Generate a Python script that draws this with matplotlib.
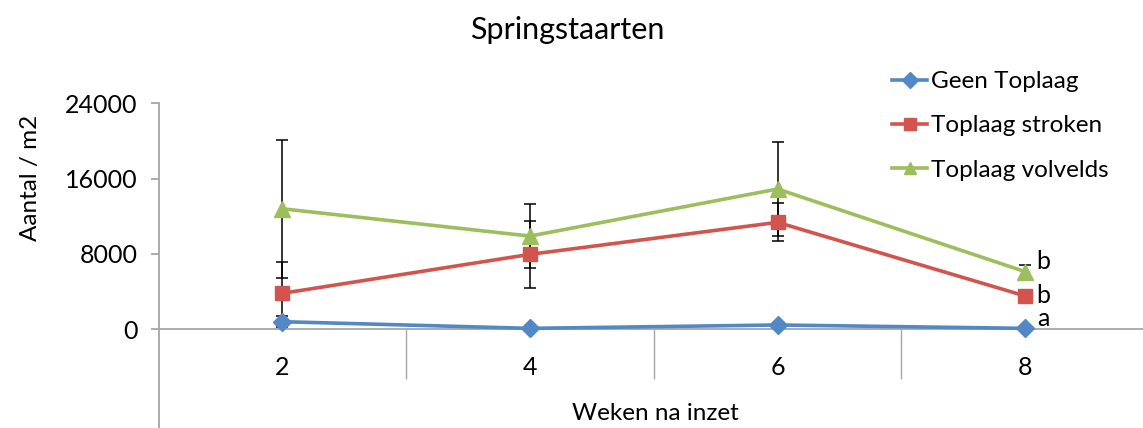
import matplotlib
matplotlib.use("Agg")
import matplotlib.pyplot as plt
from matplotlib.ticker import FixedLocator

weeks = [2, 4, 6, 8]
series_names = ["Geen Toplaag", "Toplaag stroken", "Toplaag volvelds"]
geen = [810, 100, 460, 100]
geen_err = [600, 150, 250, 150]
stroken = [3820, 7960, 11360, 3540]
stroken_err = [3360, 3540, 2020, 300]
volvelds = [12800, 9900, 14900, 6120]
volvelds_err = [7300, 3370, 5000, 700]
letters = ["a", "b", "b"]
yticks = [0, 8000, 16000, 24000]

plt.rcParams['font.family'] = ['Lato', 'DejaVu Sans']

W, H = 1143, 428
fig = plt.figure(figsize=(W / 100, H / 100), dpi=100)
left = 158.5 / W
width = 990.5 / W
bottom = 0.0
top = 1 - 103.3 / H
ax = fig.add_axes([left, bottom, width, top - bottom])
ax.set_xlim(1, 9)
ax.set_ylim(-10480, 24000)

colors = ['#5288C6', '#D3534F', '#9CBE5C']
markers = ['D', 's', '^']
msizes = [9, 10, 11]
data = [geen, stroken, volvelds]
errs = [geen_err, stroken_err, volvelds_err]

# error bars
for vals, e in zip(data, errs):
    ax.errorbar(weeks, vals, yerr=e, fmt='none', ecolor='black',
                elinewidth=1.1, capsize=4, capthick=1.1, zorder=2)

handles = []
for vals, c, m, ms, name in zip(data, colors, markers, msizes, series_names):
    h, = ax.plot(weeks, vals, color=c, marker=m, markersize=ms, lw=2.6,
                 markeredgecolor=c, label=name, zorder=3)
    handles.append(h)

# spines
gray = '#A6A6A6'
for s in ['top', 'right']:
    ax.spines[s].set_visible(False)
ax.spines['bottom'].set_position(('data', 0))
ax.spines['bottom'].set_color(gray)
ax.spines['left'].set_color(gray)
ax.spines['bottom'].set_linewidth(1.3)
ax.spines['left'].set_linewidth(1.3)

ax.yaxis.set_major_locator(FixedLocator(yticks))
ax.set_yticklabels([str(v) for v in yticks])
ax.tick_params(axis='y', direction='out', length=6, width=1.3, color=gray,
               labelsize=18, pad=9)

ax.xaxis.set_major_locator(FixedLocator(weeks))
ax.set_xticklabels([str(w) for w in weeks])
ax.xaxis.set_minor_locator(FixedLocator([3, 5, 7]))
ax.tick_params(axis='x', which='major', length=0, labelsize=18, pad=19)
ax.tick_params(axis='x', which='minor', direction='out', length=36,
               width=1.0, color=gray)

# letters at week 8
last_vals = [geen[-1], stroken[-1], volvelds[-1]]
offsets = [7, 0, 7]
for v, lt, off in zip(last_vals, letters, offsets):
    ax.annotate(lt, xy=(weeks[-1], v), xytext=(13, off),
                textcoords='offset points', fontsize=18, va='center',
                ha='center')

fig.text(567 / W, 1 - 30 / H, "Springstaarten", fontsize=22,
         ha='center', va='center')
fig.text(30 / W, 1 - 178 / H, "Aantal / m2", fontsize=17.5, rotation=90,
         ha='center', va='center')
fig.text(655 / W, 1 - 413 / H, "Weken na inzet", fontsize=17.5,
         ha='center', va='center')

leg = fig.legend(handles=handles, loc='upper left',
                 bbox_to_anchor=(892 / W, 1 - 71 / H), frameon=False,
                 fontsize=17.5, handlelength=1.45, handletextpad=0.15,
                 labelspacing=0.96, borderaxespad=0, borderpad=0)
for lh in leg.legend_handles:
    lh.set_markersize(8)

fig.savefig("out.png", dpi=100)
